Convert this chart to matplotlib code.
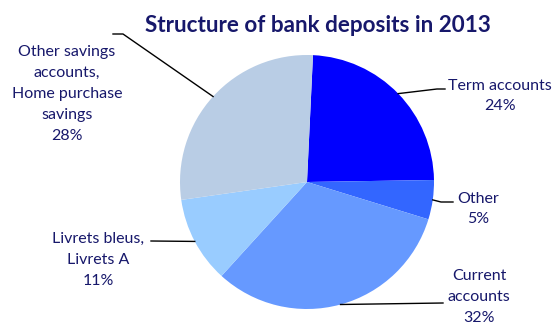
import numpy as np
import matplotlib
matplotlib.use('Agg')
import matplotlib.pyplot as plt

# ---- data ----
labels = ['Term accounts', 'Other', 'Current\naccounts', 'Livrets bleus,\nLivrets A',
          'Other savings\naccounts,\nHome purchase\nsavings']
shares = [24, 5, 32, 11, 28]
colors = ['#0000FF', '#3366FF', '#6699FF', '#99CCFF', '#B9CDE5']

# label block centres and leader line elbows, in pixels from top-left
label_pos = [(500, 96), (478, 209), (479, 297), (98, 260), (67, 94)]
leader_pts = [
    [(437, 89), (445, 89)],
    [(441, 202), (453, 202)],
    [(443, 303)],
    [(151, 241)],
    [(123, 34), (113, 34)],
]

W, H = 553, 324
TEXT_COLOR = '#17186B'
plt.rcParams['font.family'] = ['Lato', 'DejaVu Sans']

fig = plt.figure(figsize=(W / 100, H / 100), dpi=100)

def px(x, y):
    return x / W, 1 - y / H

# pie axes: centre (307, 182), radius 127 px
cx, cy, r = 307, 182, 127
ax = fig.add_axes([(cx - r) / W, (H - cy - r) / H, 2 * r / W, 2 * r / H])
wedges, _ = ax.pie(shares, colors=colors, startangle=87.3, counterclock=False,
                   radius=1, wedgeprops=dict(linewidth=0))
ax.set_xlim(-1, 1)
ax.set_ylim(-1, 1)
ax.axis('off')

fig.text(*px(318, 26), 'Structure of bank deposits in 2013', ha='center', va='center',
         fontsize=16.2, fontweight='bold', color=TEXT_COLOR)

for w, lab, share, (lx, ly), pts in zip(wedges, labels, shares, label_pos, leader_pts):
    mid = np.deg2rad((w.theta1 + w.theta2) / 2)
    ax_x, ax_y = np.cos(mid), np.sin(mid)
    start = fig.transFigure.inverted().transform(ax.transData.transform((ax_x, ax_y)))
    xs = [start[0]] + [px(*p)[0] for p in pts]
    ys = [start[1]] + [px(*p)[1] for p in pts]
    fig.add_artist(plt.Line2D(xs, ys, color='black', lw=1.0, transform=fig.transFigure))
    fig.text(*px(lx, ly), f'{lab}\n{share}%', ha='center', va='center',
             fontsize=11.5, color=TEXT_COLOR, linespacing=1.62)

fig.savefig('out.png', dpi=100)
